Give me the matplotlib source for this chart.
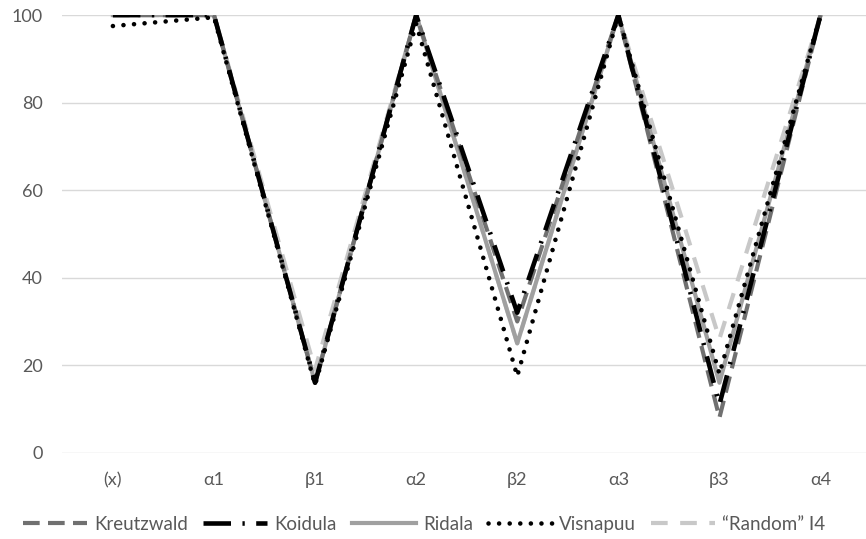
import matplotlib.pyplot as plt
import numpy as np

categories = ["(x)", "α1", "β1", "α2", "β2", "α3", "β3", "α4"]
kreutzwald = [100, 100, 16, 100, 30, 100, 8, 100]
koidula = [100, 100, 16, 100, 32, 100, 11, 100]
ridala = [100, 100, 16, 100, 25, 100, 16, 100]
visnapuu = [97.5, 99.5, 15.5, 98, 17.5, 100, 18, 100]
random_i4 = [100, 100, 19, 100, 25, 100, 26, 100]

plt.rcParams['font.family'] = ['Lato', 'DejaVu Sans']
fig = plt.figure(figsize=(8.66, 5.39), dpi=100)
ax = fig.add_axes([0.072, 0.16, 0.928, 0.812])

x = np.arange(len(categories))
ax.plot(x, kreutzwald, color="#707070", lw=3.0, dashes=(4, 2), label="Kreutzwald", zorder=3)
ax.plot(x, koidula, color="#000000", lw=3.3, dashes=(6, 2.5, 0.5, 2.5), label="Koidula", zorder=4)
ax.plot(x, ridala, color="#a0a0a0", lw=3.0, label="Ridala", zorder=2)
ax.plot(x, visnapuu, color="#000000", lw=3.3, dashes=(0.01, 2.3), dash_capstyle="round",
        label="Visnapuu", zorder=5)
ax.plot(x, random_i4, color="#c8c8c8", lw=3.0, dashes=(4, 3), label="\u201cRandom\u201d I4", zorder=1)

ax.set_xlim(-0.5, 7.45)
ax.set_ylim(0, 100)
ax.set_yticks(range(0, 101, 20))
ax.set_xticks(x, categories)
ax.grid(axis="y", color="#d9d9d9", lw=1)
ax.set_axisbelow(True)
for s in ax.spines.values():
    s.set_visible(False)
ax.tick_params(length=0, colors="#595959", labelsize=13)
ax.tick_params(axis="x", pad=14)
ax.tick_params(axis="y", pad=14)

leg = fig.legend(loc="lower center", ncol=5, frameon=False, fontsize=13.5,
                 bbox_to_anchor=(0.49, -0.02), handlelength=3.4, columnspacing=0.8,
                 handletextpad=0.4)
for t in leg.get_texts():
    t.set_color("#595959")

fig.savefig("out.png", dpi=100)
